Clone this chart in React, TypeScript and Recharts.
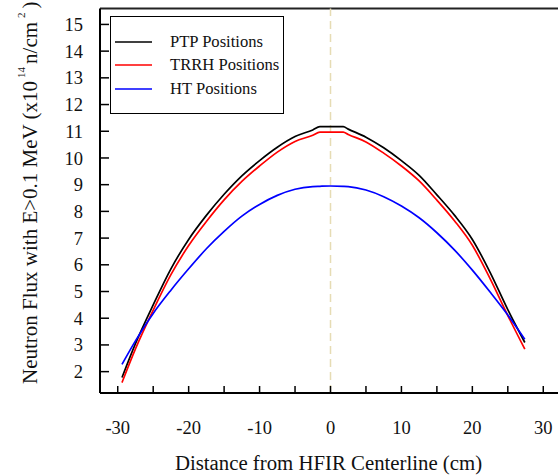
import React from "react";
import {
  LineChart,
  Line,
  XAxis,
  YAxis,
  ReferenceLine,
  Legend,
} from "recharts";

// distance from centerline (cm)
const positions = [
  -29.4, -27.5, -25, -22.5, -20, -17.5, -15, -12.5, -10, -7.5, -5, -2.5, -1.5, 0,
  1.8, 2.5, 5, 7.5, 10, 12.5, 15, 17.5, 20, 22.5, 25, 27.4,
];

// flux values (x10^14 n/cm^2)
const ptp = [
  1.78, 3.05, 4.5, 5.85, 6.95, 7.85, 8.64, 9.33, 9.9, 10.4, 10.8, 11.05, 11.17,
  11.17, 11.17, 11.08, 10.78, 10.38, 9.9, 9.35, 8.62, 7.85, 6.95, 5.72, 4.32, 3.09,
];
const trrh = [
  1.59, 2.85, 4.3, 5.63, 6.72, 7.62, 8.43, 9.12, 9.7, 10.22, 10.62, 10.85, 10.97,
  10.97, 10.97, 10.88, 10.6, 10.18, 9.7, 9.14, 8.42, 7.64, 6.73, 5.48, 4.1, 2.84,
];
const ht = [
  2.27, 3.15, 4.18, 5.05, 5.85, 6.6, 7.25, 7.82, 8.26, 8.6, 8.83, 8.93, 8.94,
  8.95, 8.94, 8.93, 8.8, 8.55, 8.2, 7.76, 7.2, 6.55, 5.8, 4.98, 4.12, 3.21,
];

const seriesNames = ["PTP Positions", "TRRH Positions", "HT Positions"];
const xTicks = [-30, -25, -20, -15, -10, -5, 0, 5, 10, 15, 20, 25, 30];
const yTicks = [2, 3, 4, 5, 6, 7, 8, 9, 10, 11, 12, 13, 14, 15];

const data = positions.map((x, i) => ({
  x,
  ptp: ptp[i],
  trrh: trrh[i],
  ht: ht[i],
}));

const FONT = "'Liberation Serif', 'Times New Roman', serif";

const XTitle = ({ viewBox }: any) => {
  const { x, y, width } = viewBox;
  return (
    <text
      x={x + width / 2 - 2}
      y={y + 77}
      textAnchor="middle"
      fontFamily={FONT}
      fontSize={20.8}
      fill="#111"
    >
      Distance from HFIR Centerline (cm)
    </text>
  );
};

const YTitle = ({ viewBox }: any) => {
  const cx = 37;
  const cy = viewBox.y + viewBox.height / 2 - 8;
  return (
    <text
      x={cx}
      y={cy}
      transform={`rotate(-90, ${cx}, ${cy})`}
      textAnchor="middle"
      fontFamily={FONT}
      fontSize={21}
      fill="#111"
    >
      Neutron Flux with E&gt;0.1 MeV (x10
      <tspan dx={3} dy={-12} fontSize={11}>14</tspan>
      <tspan dx={3} dy={12}>n/cm</tspan>
      <tspan dx={4} dy={-12} fontSize={11}>2</tspan>
      <tspan dx={4} dy={12}>)</tspan>
    </text>
  );
};

const LegendBox = ({ payload }: any) => {
  const items = [...(payload || [])].sort(
    (a: any, b: any) => seriesNames.indexOf(a.value) - seriesNames.indexOf(b.value)
  );
  return (
    <div
      style={{
        border: "1.5px solid #000",
        background: "#fff",
        width: 174,
        padding: "13px 0 12px 4px",
        boxSizing: "border-box",
        fontFamily: FONT,
        fontSize: 16.6,
        color: "#111",
        whiteSpace: "nowrap",
      }}
    >
      {items.map((p: any) => (
        <div
          key={p.value}
          style={{ display: "flex", alignItems: "center", height: 23.5 }}
        >
          <svg width={38} height={4} style={{ marginRight: 17, flexShrink: 0 }}>
            <line x1={0} y1={2} x2={37} y2={2} stroke={p.color} strokeWidth={1.6} />
          </svg>
          <span>{p.value}</span>
        </div>
      ))}
    </div>
  );
};

export default function App() {
  return (
    <div
      style={{
        position: "absolute",
        left: 0,
        top: 0,
        width: 558,
        height: 476,
        overflow: "hidden",
        background: "#fff",
      }}
    >
      <LineChart
        width={561}
        height={476}
        data={data}
        margin={{ top: 8.4, right: 0, bottom: 0, left: 0 }}
      >
        <XAxis
          dataKey="x"
          type="number"
          domain={[-32.5, 32.5]}
          ticks={xTicks}
          allowDataOverflow
          height={83}
          axisLine={{ stroke: "#000", strokeWidth: 2 }}
          tickLine={{ stroke: "#000", strokeWidth: 1.5 }}
          tickSize={-7}
          tickMargin={35}
          tickFormatter={(v: number) => (v % 10 === 0 ? String(v) : "")}
          tick={{ fontFamily: FONT, fontSize: 18.5, fill: "#111" }}
          label={<XTitle />}
        />
        <YAxis
          type="number"
          domain={[1.2, 15.6]}
          ticks={yTicks}
          allowDataOverflow
          width={100}
          axisLine={{ stroke: "#000", strokeWidth: 2 }}
          tickLine={{ stroke: "#000", strokeWidth: 1.5 }}
          tickSize={-9}
          tickMargin={26}
          tick={{ fontFamily: FONT, fontSize: 18.5, fill: "#111" }}
          label={<YTitle />}
        />
        <ReferenceLine y={15.6} stroke="#222" strokeWidth={2} />
        <ReferenceLine
          x={0}
          stroke="#e6dcb4"
          strokeWidth={1.5}
          strokeDasharray="8 5"
        />
        <Line
          name="PTP Positions"
          dataKey="ptp"
          stroke="#000000"
          strokeWidth={1.7}
          dot={false}
          type="monotone"
          isAnimationActive={false}
        />
        <Line
          name="TRRH Positions"
          dataKey="trrh"
          stroke="#ff0000"
          strokeWidth={1.7}
          dot={false}
          type="monotone"
          isAnimationActive={false}
        />
        <Line
          name="HT Positions"
          dataKey="ht"
          stroke="#0000ff"
          strokeWidth={1.7}
          dot={false}
          type="monotone"
          isAnimationActive={false}
        />
        <Legend
          layout="vertical"
          align="center"
          verticalAlign="middle"
          content={<LegendBox />}
          wrapperStyle={{ position: "absolute", left: 110, top: 16, width: "auto" }}
        />
      </LineChart>
    </div>
  );
}
